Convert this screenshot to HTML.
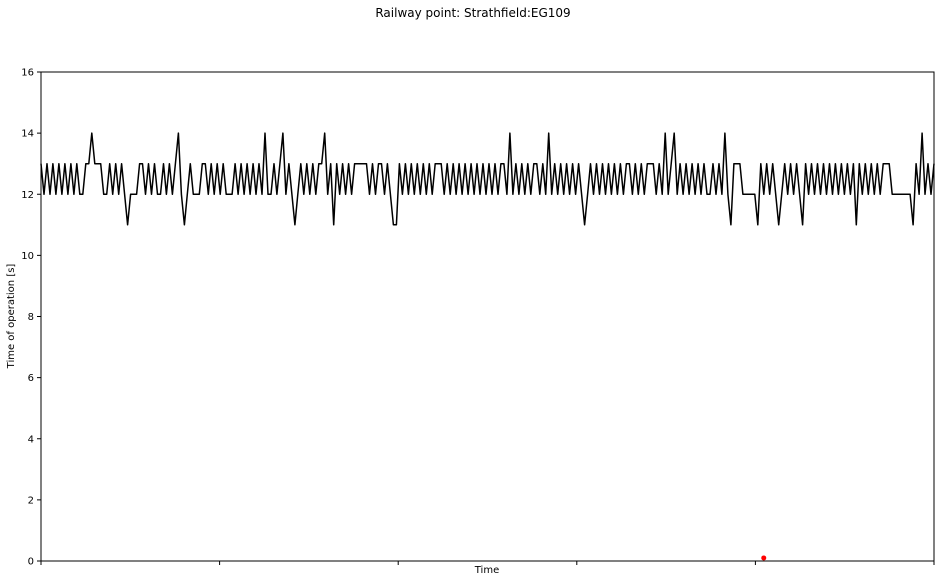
<!DOCTYPE html>
<html><head><meta charset="utf-8"><style>
body{margin:0;background:#fff;width:944px;height:582px;overflow:hidden;font-family:"DejaVu Sans","Liberation Sans",sans-serif;}
</style></head><body>
<svg id="chart" width="944" height="582" xmlns="http://www.w3.org/2000/svg" font-family="DejaVu Sans, Liberation Sans, sans-serif">
<text x="473" y="17" font-size="12" text-anchor="middle">Railway point: Strathfield:EG109</text>
<rect x="41" y="72" width="893" height="489" fill="#fff" stroke="#000" stroke-width="1"/>
<g id="yaxis"></g>
<g id="xaxis"></g>
<text transform="translate(14,316) rotate(-90)" font-size="10" text-anchor="middle">Time of operation [s]</text>
<text x="487" y="573" font-size="10" text-anchor="middle">Time</text>
<g id="series"></g>
</svg>
<script>
const yTicks = [0,2,4,6,8,10,12,14,16];
const xTickCount = 6;
const ops = [
13,12,13,12,13,12,13,12,13,12,
13,12,13,12,12,13,13,14,13,13,
13,12,12,13,12,13,12,13,12,11,
12,12,12,13,13,12,13,12,13,12,
12,13,12,13,12,13,14,12,11,12,
13,12,12,12,13,13,12,13,12,13,
12,13,12,12,12,13,12,13,12,13,
12,13,12,13,12,14,12,12,13,12,
13,14,12,13,12,11,12,13,12,13,
12,13,12,13,13,14,12,13,11,13,
12,13,12,13,12,13,13,13,13,13,
12,13,12,13,13,12,13,12,11,11,
13,12,13,12,13,12,13,12,13,12,
13,12,13,13,13,12,13,12,13,12,
13,12,13,12,13,12,13,12,13,12,
13,12,13,12,13,13,12,14,12,13,
12,13,12,13,12,13,13,12,13,12,
14,12,13,12,13,12,13,12,13,12,
13,12,11,12,13,12,13,12,13,12,
13,12,13,12,13,12,13,13,12,13,
12,13,12,13,13,13,12,13,12,14,
12,13,14,12,13,12,13,12,13,12,
13,12,13,12,12,13,12,13,12,14,
12,11,13,13,13,12,12,12,12,12,
11,13,12,13,12,13,12,11,12,13,
12,13,12,13,12,11,13,12,13,12,
13,12,13,12,13,12,13,12,13,12,
13,12,13,11,13,12,13,12,13,12,
13,12,13,13,13,12,12,12,12,12,
12,12,11,13,12,14,12,13,12,13];
const outlierIndex = [242];
const outlierValue = [0.1];

const X0=41,X1=934,Y0=561,Y1=72,YMAX=16;
const NS="http://www.w3.org/2000/svg";
function yS(v){return Y0-(v/YMAX)*(Y0-Y1);}
function xS(i){return X0+i*(X1-X0)/(ops.length-1);}
function mk(t,a){const e=document.createElementNS(NS,t);for(const k in a)e.setAttribute(k,a[k]);return e;}
const ya=document.getElementById('yaxis');
yTicks.forEach(v=>{
  const l=mk('line',{x1:X0-4,x2:X0,y1:yS(v),y2:yS(v),stroke:'#000'});
  
  
  ya.appendChild(l);
  const t=mk('text',{x:X0-7,y:yS(v)+3.5,'font-size':10,'text-anchor':'end'});
  
  
  t.textContent=v;ya.appendChild(t);
});
const xa=document.getElementById('xaxis');
for(let k=0;k<xTickCount;k++){
  const x=X0+k*(X1-X0)/(xTickCount-1);
  const l=mk('line',{x1:x,x2:x,y1:Y0,y2:Y0+4,stroke:'#000'});
  
  
  xa.appendChild(l);
}
const s=document.getElementById('series');
const p=mk('polyline',{points:ops.map((v,i)=>xS(i).toFixed(1)+','+yS(v).toFixed(1)).join(' '),fill:'none',stroke:'#000','stroke-width':1.5,'stroke-linejoin':'round'});


s.appendChild(p);
outlierIndex.forEach((ix,k)=>{
  const c=mk('circle',{cx:xS(ix),cy:yS(outlierValue[k]),r:2.5,fill:'red'});
  
  
  s.appendChild(c);
});
</script>
</body></html>
